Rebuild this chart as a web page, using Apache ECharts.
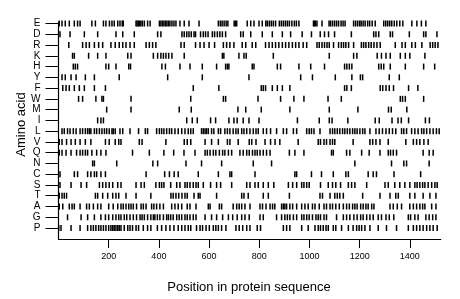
<!DOCTYPE html>
<html><head><meta charset="utf-8">
<script src="https://cdn.jsdelivr.net/npm/echarts@6/dist/echarts.min.js"></script>
<style>html,body{margin:0;padding:0;background:#fff}#c{width:460px;height:299px}</style>
</head><body><div id="c"></div>
<script>
// Amino acid rows, bottom (index 0) to top
const aminoAcids = ['P','G','A','T','S','C','N','Q','V','L','I','M','W','F','Y','H','K','R','D','E'];
const xTicks = [200, 400, 600, 800, 1000, 1200, 1400];

const E = [3,14,27,43,63,76,86,133,147,179,189,203,213,222,236,245,254,258,309,313,318,322,328,334,342,355,365,402,408,414,420,426,432,438,444,452,460,468,484,501,520,560,637,645,652,660,668,675,700,705,710,752,766,779,799,812,826,832,840,848,856,865,880,888,896,904,912,920,930,940,948,958,1016,1020,1024,1030,1050,1078,1084,1092,1100,1108,1116,1126,1134,1142,1176,1184,1192,1200,1206,1214,1222,1232,1240,1250,1262,1296,1304,1312,1320,1328,1338,1348,1360,1372,1408,1428,1446,1464];
const D = [6,46,103,156,229,256,302,395,408,492,501,511,520,529,540,546,566,577,586,596,613,622,633,643,653,666,726,736,766,812,852,892,925,971,1008,1043,1060,1076,1100,1167,1256,1265,1276,1322,1331,1398,1455,1464,1508];
const R = [41,96,110,123,143,160,176,209,226,242,256,269,285,302,349,362,375,388,488,501,546,564,580,600,622,657,670,683,699,732,746,772,786,825,839,852,865,878,892,905,918,932,945,958,975,989,1030,1039,1050,1060,1070,1079,1096,1116,1127,1136,1145,1156,1176,1207,1216,1225,1236,1246,1257,1269,1282,1342,1369,1382,1408,1422,1448,1481,1491,1501,1512];
const K = [56,63,120,156,189,276,289,378,395,408,418,428,439,452,501,653,659,719,739,748,856,1079,1176,1189,1270,1287,1305,1322,1362,1382,1400,1460];
const H = [59,67,76,189,200,229,280,287,412,426,484,524,573,630,666,673,679,772,779,872,885,958,1005,1060,1140,1149,1159,1169,1276,1286,1296,1322,1382,1455,1499];
const Y = [14,27,50,70,107,143,242,435,573,759,965,1012,1103,1169,1203,1212,1318,1358];
const F = [17,30,43,63,83,103,143,187,537,639,808,816,825,852,872,892,922,1140,1149,1167,1282,1292,1305,1318,1335,1395,1432];
const W = [80,96,149,173,179,289,527,657,666,795,885,938,978,1074,1127,1362,1371,1382,1455];
const M = [192,289,481,529,715,746,808,922,1079,1193,1315,1326,1388];
const I = [156,169,179,511,533,553,606,626,679,699,712,736,759,799,952,1039,1079,1090,1153,1262,1278,1329,1353,1366,1395,1462,1478];
const L = [14,23,36,46,59,70,86,96,107,116,123,129,143,152,163,173,183,192,202,213,218,226,245,256,285,319,346,355,391,402,411,420,431,442,451,464,477,491,504,517,527,537,570,577,584,590,597,610,619,637,646,663,673,683,696,707,716,730,739,750,763,776,787,796,816,829,845,869,896,909,936,949,989,999,1008,1018,1042,1082,1092,1101,1111,1121,1132,1141,1151,1161,1172,1181,1190,1201,1212,1221,1241,1265,1278,1291,1305,1318,1331,1344,1367,1376,1387,1407,1420,1433,1447,1456,1467,1480,1493,1506,1517];
const V = [3,14,32,50,67,86,107,129,187,202,226,240,249,322,333,428,501,513,527,584,610,637,673,683,716,760,770,787,823,845,863,882,955,1035,1044,1058,1068,1082,1092,1101,1174,1241,1252,1265,1281,1314,1384,1414,1427,1440,1456,1473];
const Q = [3,14,30,50,72,86,96,107,116,133,152,169,189,295,362,420,459,500,544,584,593,604,617,627,641,654,663,677,690,723,736,750,760,773,783,792,803,816,829,843,920,942,978,1088,1095,1148,1161,1208,1238,1281,1314,1323,1334,1347,1453,1477,1493];
const N = [136,143,232,376,395,508,570,650,776,849,1181,1327,1376,1387,1477];
const C = [6,63,76,116,129,143,152,169,187,349,423,442,461,477,557,637,683,690,783,942,949,1008,1048,1095,1145,1155,1234,1254,1267,1337,1443];
const S = [6,50,90,112,163,176,189,202,216,236,249,309,329,342,388,402,411,420,447,471,484,504,513,524,537,548,557,577,606,630,646,690,750,763,783,796,816,836,858,916,933,949,969,978,989,999,1044,1075,1092,1105,1124,1155,1168,1181,1228,1301,1314,1340,1360,1380,1400,1420,1429,1440,1451,1460,1473,1487,1500,1509];
const T = [3,14,23,32,147,156,176,196,216,229,240,269,309,368,448,457,468,479,492,504,513,540,557,564,630,730,739,756,816,836,920,1042,1052,1082,1101,1111,1121,1135,1212,1281,1321,1344,1354,1400,1420,1453,1480,1504];
const A = [3,17,43,54,63,86,112,123,139,156,169,200,218,236,249,258,269,280,289,298,311,329,338,349,371,380,391,404,418,451,464,477,491,513,524,548,597,604,641,650,696,710,720,730,743,763,803,813,827,843,853,862,889,896,902,909,922,933,949,969,982,995,1012,1022,1039,1058,1068,1082,1092,1105,1119,1135,1148,1159,1172,1181,1190,1204,1214,1225,1234,1248,1257,1321,1334,1350,1367,1400,1414,1427,1440,1451,1460,1487,1504];
const G = [36,90,116,143,169,187,200,216,229,240,249,262,272,285,298,311,325,333,342,355,368,378,384,394,404,418,431,438,447,457,471,481,491,504,513,524,537,548,584,610,630,654,677,694,712,730,743,760,803,816,869,889,902,912,922,936,949,969,978,989,999,1012,1026,1035,1044,1058,1068,1108,1135,1148,1161,1177,1190,1204,1214,1228,1241,1254,1274,1287,1305,1318,1336,1394,1403,1420,1433,1464,1477,1491,1504];
const P = [1,10,50,86,116,129,139,149,160,169,179,189,200,209,216,222,229,236,242,249,262,276,285,295,309,319,338,355,368,394,411,428,444,460,477,491,504,517,527,550,564,574,588,601,617,627,637,650,667,707,720,734,750,763,792,805,896,909,922,969,995,1022,1035,1044,1055,1066,1075,1095,1105,1128,1155,1174,1188,1198,1208,1221,1241,1274,1307,1347,1394,1414,1427,1440,1453,1467,1480,1493,1509];

const rows = {P, G, A, T, S, C, N, Q, V, L, I, M, W, F, Y, H, K, R, D, E};
const points = [];
aminoAcids.forEach((aa, i) => rows[aa].forEach(pos => points.push([pos, i])));
const rowIdx = aminoAcids.map((_, i) => i);

const chart = echarts.init(document.getElementById('c'), null, {renderer: 'canvas'});
const font = '"Liberation Sans", Arial, Helvetica, sans-serif';
chart.setOption({
  animation: false,
  backgroundColor: '#fff',
  grid: {left: 58.5, right: 19.3, top: 22, bottom: 60, containLabel: false},
  xAxis: {
    type: 'value', min: 0, max: 1523,
    axisLine: {show: true, onZero: false, lineStyle: {color: '#000', width: 1.2}},
    axisTick: {show: true, length: 9, customValues: xTicks, lineStyle: {color: '#000', width: 1}},
    axisLabel: {customValues: xTicks, formatter: v => String(Math.round(v)), color: '#000', fontSize: 9, fontFamily: font, margin: 13},
    splitLine: {show: false}
  },
  yAxis: {
    type: 'value', min: -1.02, max: 19.14,
    axisLine: {show: true, onZero: false, lineStyle: {color: '#000', width: 1.2}},
    axisTick: {show: true, length: 13, customValues: rowIdx, lineStyle: {color: '#000', width: 1}},
    axisLabel: {customValues: rowIdx, formatter: v => aminoAcids[Math.round(v)], color: '#000', fontSize: 10, fontFamily: font, margin: 18},
    splitLine: {show: false}
  },
  graphic: [
    {type: 'text', x: 21, y: 124.5, rotation: Math.PI / 2,
     style: {text: 'Amino acid', font: '13px ' + font, fill: '#000', align: 'center', verticalAlign: 'middle'}},
    {type: 'text', x: 249, y: 287,
     style: {text: 'Position in protein sequence', font: '13px ' + font, fill: '#000', align: 'center', verticalAlign: 'middle'}}
  ],
  series: [{
    type: 'scatter',
    symbol: 'rect',
    symbolSize: [1.5, 6],
    itemStyle: {color: '#000', opacity: 1},
    data: points,
    silent: true
  }]
});
</script>
</body></html>
